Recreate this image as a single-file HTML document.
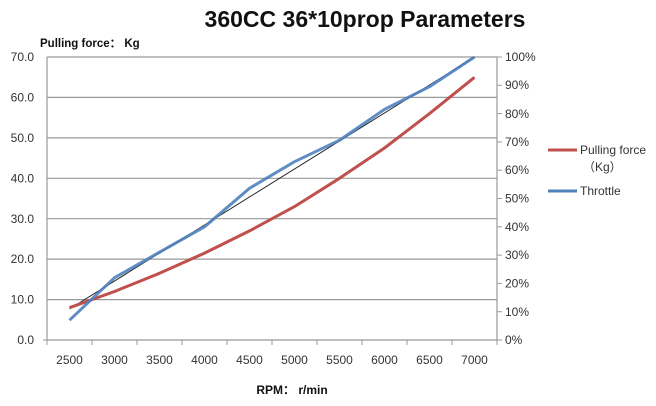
<!DOCTYPE html>
<html><head><meta charset="utf-8"><style>
body{margin:0;background:#fff;width:656px;height:406px;overflow:hidden}
svg{display:block}
text{font-family:"Liberation Sans","Noto Sans CJK SC",sans-serif}
</style></head><body>
<svg width="656" height="406" viewBox="0 0 656 406">
<text x="365" y="27" text-anchor="middle" font-size="23" font-weight="bold" fill="#111">360CC 36*10prop Parameters</text>
<text x="40" y="47" font-size="11.5" font-weight="bold" fill="#111">Pulling force： Kg</text>
<g stroke="#999" stroke-width="1.2">
<line x1="47" y1="57" x2="497" y2="57"/>
<line x1="47" y1="97.4" x2="497" y2="97.4"/>
<line x1="47" y1="137.9" x2="497" y2="137.9"/>
<line x1="47" y1="178.3" x2="497" y2="178.3"/>
<line x1="47" y1="218.7" x2="497" y2="218.7"/>
<line x1="47" y1="259.1" x2="497" y2="259.1"/>
<line x1="47" y1="299.6" x2="497" y2="299.6"/>
<line x1="47" y1="340" x2="497" y2="340"/>
<line x1="47" y1="57" x2="47" y2="340"/>
<line x1="497" y1="57" x2="497" y2="340"/>
</g>
<g stroke="#999" stroke-width="1">
<line x1="43" y1="340" x2="47" y2="340"/>
<line x1="497" y1="57" x2="502" y2="57"/><line x1="497" y1="85.3" x2="502" y2="85.3"/><line x1="497" y1="113.6" x2="502" y2="113.6"/><line x1="497" y1="141.9" x2="502" y2="141.9"/><line x1="497" y1="170.2" x2="502" y2="170.2"/><line x1="497" y1="198.5" x2="502" y2="198.5"/><line x1="497" y1="226.8" x2="502" y2="226.8"/><line x1="497" y1="255.1" x2="502" y2="255.1"/><line x1="497" y1="283.4" x2="502" y2="283.4"/><line x1="497" y1="311.7" x2="502" y2="311.7"/><line x1="497" y1="340" x2="502" y2="340"/>
<line x1="47" y1="340" x2="47" y2="345"/><line x1="92" y1="340" x2="92" y2="345"/><line x1="137" y1="340" x2="137" y2="345"/><line x1="182" y1="340" x2="182" y2="345"/><line x1="227" y1="340" x2="227" y2="345"/><line x1="272" y1="340" x2="272" y2="345"/><line x1="317" y1="340" x2="317" y2="345"/><line x1="362" y1="340" x2="362" y2="345"/><line x1="407" y1="340" x2="407" y2="345"/><line x1="452" y1="340" x2="452" y2="345"/><line x1="497" y1="340" x2="497" y2="345"/>
</g>
<g font-size="12" fill="#333" text-anchor="end">
<text x="34" y="61">70.0</text><text x="34" y="101.5">60.0</text><text x="34" y="142">50.0</text><text x="34" y="182.5">40.0</text><text x="34" y="223">30.0</text><text x="34" y="263">20.0</text><text x="34" y="303.5">10.0</text><text x="34" y="344">0.0</text>
</g>
<g font-size="12" fill="#333">
<text x="505" y="61">100%</text><text x="505" y="89">90%</text><text x="505" y="118">80%</text><text x="505" y="146">70%</text><text x="505" y="174">60%</text><text x="505" y="202.5">50%</text><text x="505" y="231">40%</text><text x="505" y="259">30%</text><text x="505" y="287.5">20%</text><text x="505" y="316">10%</text><text x="505" y="344">0%</text>
</g>
<g font-size="12" fill="#333" text-anchor="middle">
<text x="69.5" y="364">2500</text><text x="114.5" y="364">3000</text><text x="159.5" y="364">3500</text><text x="204.5" y="364">4000</text><text x="249.5" y="364">4500</text><text x="294.5" y="364">5000</text><text x="339.5" y="364">5500</text><text x="384.5" y="364">6000</text><text x="429.5" y="364">6500</text><text x="474.5" y="364">7000</text>
</g>
<text x="292" y="394" text-anchor="middle" font-size="12" font-weight="bold" fill="#111">RPM： r/min</text>
<line x1="69.5" y1="309" x2="474.5" y2="57" stroke="#222" stroke-width="1"/>
<polyline fill="none" stroke="#c0504d" stroke-width="3" stroke-linejoin="round" points="69.5,307.7 114.5,291.5 159.5,273.3 204.5,253.1 249.5,230.9 294.5,206.6 339.5,178.3 384.5,148 429.5,113.6 474.5,77.3"/>
<polyline fill="none" stroke="#4f81bd" stroke-width="3" stroke-linejoin="round" opacity="0.9" points="69.5,320.2 114.5,277.7 159.5,252.2 204.5,226.8 249.5,188.3 294.5,161.7 339.5,140.2 384.5,109.4 429.5,86.7 474.5,57"/>
<line x1="548" y1="150" x2="577" y2="150" stroke="#c0504d" stroke-width="3"/>
<text x="580" y="154" font-size="12" fill="#333">Pulling force</text>
<text x="583" y="171" font-size="12" fill="#333">（Kg）</text>
<line x1="548" y1="191" x2="577" y2="191" stroke="#4f81bd" stroke-width="3"/>
<text x="580" y="195" font-size="12" fill="#333">Throttle</text>
</svg>
</body></html>
